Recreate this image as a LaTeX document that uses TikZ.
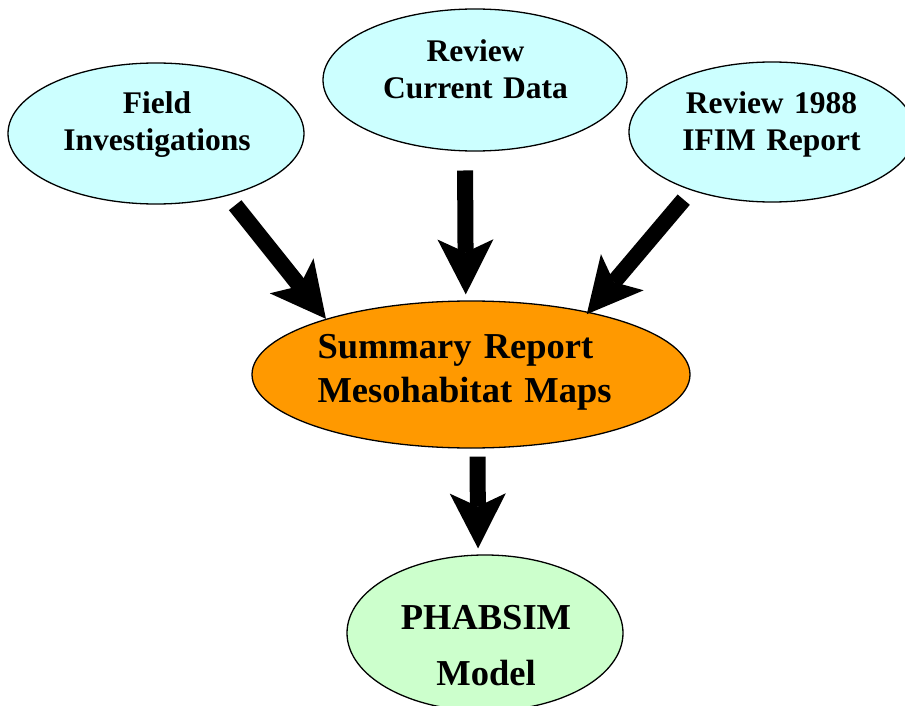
\documentclass[tikz,border=0pt]{standalone}
\usepackage{fontspec}
\setmainfont{Liberation Serif}
\usetikzlibrary{arrows.meta,shapes.geometric}
\definecolor{lcyan}{HTML}{CCFFFF}
\definecolor{lorange}{HTML}{FF9900}
\definecolor{lgreen}{HTML}{CCFFCC}
\tikzset{
  oval/.style={ellipse, draw=black, line width=1.3pt, inner sep=0pt},
  smalltext/.style={anchor=base, inner sep=0pt, text width=330pt, align=center,
    font=\fontsize{31.5}{37}\selectfont\bfseries},
  bigarrow/.style={line width=16pt,
    -{Stealth[length=55pt,width=56pt,inset=13pt,line width=0pt]}},
}
\begin{document}
\begin{tikzpicture}[x=1pt,y=-1pt]
\useasboundingbox (0,0) rectangle (905,706);
% ellipses
\node[oval, fill=lcyan, minimum width=296pt, minimum height=141pt] (field) at (156,133.5) {};
\node[oval, fill=lcyan, minimum width=304pt, minimum height=142pt] (current) at (475,80) {};
\node[oval, fill=lcyan, minimum width=286pt, minimum height=140pt] (ifim) at (772,132) {};
\node[oval, fill=lorange, minimum width=438pt, minimum height=147pt] (summary) at (471,374.5) {};
\node[oval, fill=lgreen, minimum width=276pt, minimum height=156pt] (phabsim) at (485,633) {};
% texts
\node[smalltext] (fieldtext) at (157,113.3) {Field\\Investigations};
\node[smalltext] (currenttext) at (475.5,61.7) {Review\\Current Data};
\node[smalltext] (ifimtext) at (771.5,113.3) {Review 1988\\IFIM Report};
\node[anchor=base west, inner sep=0pt, text width=330pt, align=left,
  font=\fontsize{36.5}{44}\selectfont\bfseries] (summarytext) at (317.3,358.3)
  {Summary Report\\Mesohabitat Maps};
\node[anchor=base, inner sep=0pt, text width=330pt, align=center,
  font=\fontsize{36.5}{56.5}\selectfont\bfseries] (phabsimtext) at (486,629.3)
  {PHABSIM\\Model};
% arrows
\draw[bigarrow, shorten <=12pt] (field.-41.5) -- (summary.159.3);
\draw[bigarrow, shorten <=19pt, shorten >=6pt] (current.-98) -- (summary.94.7);
\draw[bigarrow, shorten <=12pt, shorten >=-3pt] (ifim.-144.3) -- (summary.28);
\draw[bigarrow, shorten <=8pt, shorten >=6pt] (summary.-85.3) -- (phabsim.95.5);
\end{tikzpicture}
\end{document}
